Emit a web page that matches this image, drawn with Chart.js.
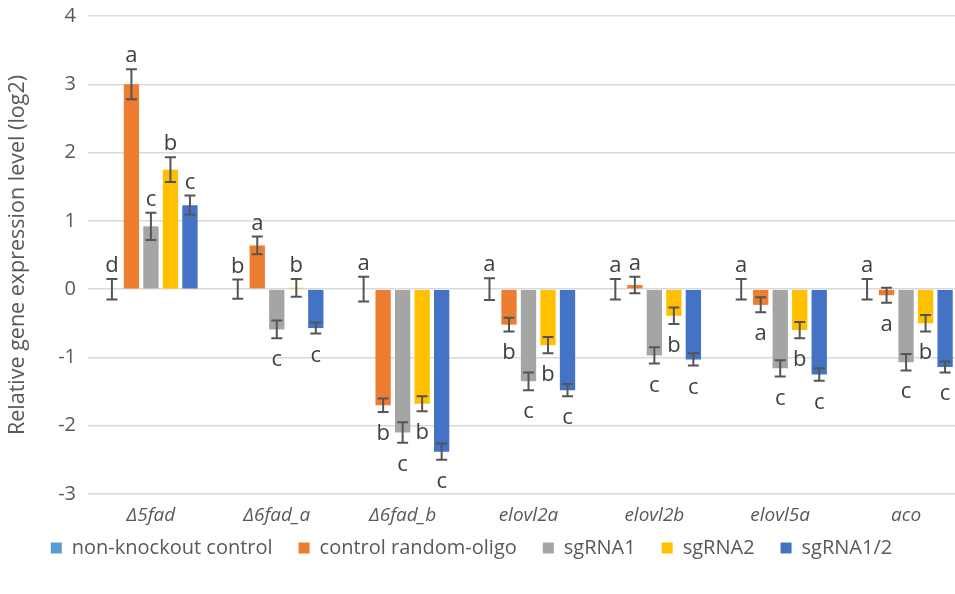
<!DOCTYPE html>
<html>
<head>
<meta charset="utf-8">
<script src="https://cdn.jsdelivr.net/npm/chart.js@4"></script>
<style>
  html, body { margin: 0; padding: 0; background: #fff; overflow: hidden; }
</style>
</head>
<body>
<canvas id="chart" width="969" height="594"></canvas>
<script>
const genes = ['Δ5fad', 'Δ6fad_a', 'Δ6fad_b', 'elovl2a', 'elovl2b', 'elovl5a', 'aco'];

// log2 relative expression, SD and significance letters for each group
const nonKnockout = [0, 0, 0, 0, 0, 0, 0];
const nonKnockoutSd = [0.15, 0.14, 0.18, 0.16, 0.15, 0.15, 0.15];
const nonKnockoutSig = ['d', 'b', 'a', 'a', 'a', 'a', 'a'];

const randomOligo = [3.0, 0.64, -1.70, -0.52, 0.06, -0.23, -0.09];
const randomOligoSd = [0.22, 0.13, 0.10, 0.10, 0.12, 0.11, 0.11];
const randomOligoSig = ['a', 'a', 'b', 'b', 'a', 'a', 'a'];

const sgRNA1 = [0.92, -0.59, -2.10, -1.35, -0.97, -1.16, -1.07];
const sgRNA1Sd = [0.20, 0.13, 0.15, 0.13, 0.12, 0.12, 0.12];
const sgRNA1Sig = ['c', 'c', 'c', 'c', 'c', 'c', 'c'];

const sgRNA2 = [1.75, 0.02, -1.68, -0.82, -0.39, -0.60, -0.50];
const sgRNA2Sd = [0.18, 0.13, 0.11, 0.12, 0.12, 0.12, 0.12];
const sgRNA2Sig = ['b', 'b', 'b', 'b', 'b', 'b', 'b'];

const sgRNA12 = [1.23, -0.57, -2.38, -1.48, -1.03, -1.25, -1.14];
const sgRNA12Sd = [0.14, 0.08, 0.12, 0.09, 0.09, 0.09, 0.08];
const sgRNA12Sig = ['c', 'c', 'c', 'c', 'c', 'c', 'c'];

const FONT = "'Open Sans', sans-serif";
const GREY = '#595959';

const makeSet = (label, data, sd, sig, color) => ({
    label: label,
    data: data,
    sd: sd,
    sig: sig,
    backgroundColor: color,
    borderWidth: 0,
    categoryPercentage: 0.775,
    barPercentage: 0.785
});

// error bars with caps, then the letter above or below each bar
const errorBars = {
    id: 'errorBars',
    afterDatasetsDraw(chart) {
        const ctx = chart.ctx;
        const y = chart.scales.y;
        ctx.save();
        chart.data.datasets.forEach((ds, i) => {
            chart.getDatasetMeta(i).data.forEach((bar, j) => {
                const v = ds.data[j];
                const e = ds.sd[j];
                const top = y.getPixelForValue(v + e);
                const bot = y.getPixelForValue(v - e);
                ctx.strokeStyle = '#555555';
                ctx.lineWidth = 2;
                ctx.beginPath();
                ctx.moveTo(bar.x, top);
                ctx.lineTo(bar.x, bot);
                ctx.moveTo(bar.x - 5.5, top);
                ctx.lineTo(bar.x + 5.5, top);
                ctx.moveTo(bar.x - 5.5, bot);
                ctx.lineTo(bar.x + 5.5, bot);
                ctx.stroke();

                ctx.fillStyle = '#404040';
                ctx.font = '22px ' + FONT;
                ctx.textAlign = 'center';
                ctx.textBaseline = 'alphabetic';
                if (v >= 0) {
                    ctx.fillText(ds.sig[j], bar.x, top - 7);
                } else {
                    ctx.fillText(ds.sig[j], bar.x, bot + 28);
                }
            });
        });
        ctx.restore();
    }
};

// legend row sits just under the gene names, a bit left of centre
const legendPlace = {
    id: 'legendPlace',
    afterLayout(chart) {
        const lg = chart.legend;
        lg.left = -13;
        lg.right = chart.width - 13;
        lg.top = 512;
        lg.bottom = chart.height;
    }
};

new Chart(document.getElementById('chart'), {
    type: 'bar',
    data: {
        labels: genes,
        datasets: [
            makeSet('non-knockout control', nonKnockout, nonKnockoutSd, nonKnockoutSig, '#5B9BD5'),
            makeSet('control random-oligo', randomOligo, randomOligoSd, randomOligoSig, '#ED7D31'),
            makeSet('sgRNA1', sgRNA1, sgRNA1Sd, sgRNA1Sig, '#A5A5A5'),
            makeSet('sgRNA2', sgRNA2, sgRNA2Sd, sgRNA2Sig, '#FFC000'),
            makeSet('sgRNA1/2', sgRNA12, sgRNA12Sd, sgRNA12Sig, '#4472C4')
        ]
    },
    options: {
        responsive: false,
        animation: false,
        layout: { padding: { top: 16, bottom: 30, left: 0, right: 0 } },
        scales: {
            x: {
                grid: { display: false, drawTicks: false },
                border: { display: false },
                ticks: {
                    color: GREY,
                    padding: 10,
                    font: { family: FONT, size: 19, style: 'italic' }
                },
                afterFit: (scale) => { scale.height = 40; }
            },
            y: {
                min: -3,
                max: 4,
                grid: { color: '#D9D9D9', lineWidth: 1.5, drawTicks: false },
                border: { display: false },
                ticks: {
                    stepSize: 1,
                    color: GREY,
                    padding: 12,
                    font: { family: FONT, size: 20 }
                },
                title: {
                    display: true,
                    text: 'Relative gene expression level (log2)',
                    color: GREY,
                    padding: { top: 5, bottom: 0 },
                    font: { family: FONT, size: 21.5 }
                },
                afterFit: (scale) => {
                    scale.width = 88;
                    scale.paddingTop = 0;
                    scale.paddingBottom = 0;
                }
            }
        },
        plugins: {
            legend: {
                position: 'bottom',
                maxHeight: 30,
                labels: {
                    color: GREY,
                    boxWidth: 11,
                    boxHeight: 11,
                    padding: 26,
                    font: { family: FONT, size: 20 }
                }
            },
            tooltip: { enabled: false }
        }
    },
    plugins: [errorBars, legendPlace]
});
</script>
</body>
</html>
